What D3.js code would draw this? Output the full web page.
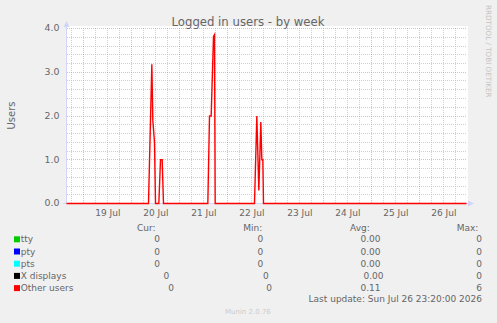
<!DOCTYPE html>
<html>
<head>
<meta charset="utf-8">
<script src="https://cdn.jsdelivr.net/npm/d3@7"></script>
<style>
  body { margin: 0; background: #f0f0f0; }
  svg { display: block; font-family: "DejaVu Sans", sans-serif; }
</style>
</head>
<body>
<div id="wrapper"></div>
<script>
// "Other users" samples (all other series are 0 over the week)
const otherTimes = [
  "2026-07-18 15:20", "2026-07-20 08:20", "2026-07-20 10:00", "2026-07-20 10:30",
  "2026-07-20 11:20", "2026-07-20 11:50", "2026-07-20 13:30", "2026-07-20 14:20",
  "2026-07-20 15:10", "2026-07-20 15:50", "2026-07-21 14:00", "2026-07-21 14:50",
  "2026-07-21 15:40", "2026-07-21 16:50", "2026-07-21 17:20", "2026-07-21 17:40",
  "2026-07-22 13:20", "2026-07-22 14:30", "2026-07-22 15:30", "2026-07-22 16:30",
  "2026-07-22 17:00", "2026-07-22 17:30", "2026-07-22 17:50", "2026-07-26 23:20"
];
const otherValues = [
  0, 0, 3.18, 1.9,
  1.4, 0, 0, 1.0,
  1.0, 0, 0, 2.0,
  2.0, 3.82, 3.86, 0,
  0, 2.0, 0.3, 1.86,
  1.0, 1.0, 0, 0
];

const yTicks = [0, 1, 2, 3, 4];
const seriesNames = ["tty", "pty", "pts", "X displays", "Other users"];
const seriesColors = ["#00cc00", "#0000ff", "#00ffff", "#000000", "#ff0000"];
const curValues = ["0", "0", "0", "0", "0"];
const minValues = ["0", "0", "0", "0", "0"];
const avgValues = ["0.00", "0.00", "0.00", "0.00", "0.11"];
const maxValues = ["0", "0", "0", "0", "6"];

const startTime = "2026-07-18 15:20";
const endTime = "2026-07-26 23:20";

function drawChart() {
  const parse = d3.timeParse("%Y-%m-%d %H:%M");
  const data = otherTimes.map((t, i) => ({ date: parse(t), value: otherValues[i] }));
  const start = parse(startTime), end = parse(endTime);

  const dims = { width: 497, height: 323, left: 66.5, right: 466.5, top: 28, bottom: 203 };
  const crisp = v => Math.round(v) + 0.5;
  const fontColor = "#666666";
  const axisColor = "#cfd6f8";

  const svg = d3.select("#wrapper").append("svg")
    .attr("width", dims.width)
    .attr("height", dims.height);

  svg.append("rect").attr("width", dims.width).attr("height", dims.height).attr("fill", "#f0f0f0");
  svg.append("rect")
    .attr("x", 66).attr("y", 26)
    .attr("width", 402).attr("height", 177)
    .attr("fill", "#ffffff");

  const xScale = d3.scaleTime().domain([start, end]).range([dims.left, dims.right]);
  const yScale = d3.scaleLinear().domain([0, 4]).range([dims.bottom, dims.top]);

  // grid
  const grid = svg.append("g").attr("fill", "none").attr("stroke-dasharray", "1,1");
  const minorY = d3.range(0, 4.01, 0.2).filter(v => Math.abs(v - Math.round(v)) > 0.01);
  grid.selectAll(".hminor").data(minorY).join("line")
    .attr("x1", 67).attr("x2", 467)
    .attr("y1", d => crisp(yScale(d))).attr("y2", d => crisp(yScale(d)))
    .attr("stroke", "rgba(192,192,192,0.75)");
  const minorX = d3.timeHour.every(6).range(start, end).filter(d => d.getHours() !== 0);
  grid.selectAll(".vminor").data(minorX).join("line")
    .attr("x1", d => Math.floor(xScale(d)) + 0.5).attr("x2", d => Math.floor(xScale(d)) + 0.5)
    .attr("y1", 28).attr("y2", 203)
    .attr("stroke", "rgba(192,192,192,0.75)");
  grid.selectAll(".hmajor").data(yTicks.filter(d => d > 0)).join("line")
    .attr("x1", 67).attr("x2", 467)
    .attr("y1", d => crisp(yScale(d))).attr("y2", d => crisp(yScale(d)))
    .attr("stroke", "rgba(240,128,128,0.6)");
  grid.selectAll(".vmajor").data(d3.timeDay.range(start, end)).join("line")
    .attr("x1", d => Math.floor(xScale(d)) + 0.5).attr("x2", d => Math.floor(xScale(d)) + 0.5)
    .attr("y1", 28).attr("y2", 203)
    .attr("stroke", "rgba(240,128,128,0.6)");

  // axes + arrows
  svg.append("line").attr("x1", 66.5).attr("x2", 66.5).attr("y1", 204).attr("y2", 26)
    .attr("stroke", axisColor);
  svg.append("line").attr("x1", 63).attr("x2", 468).attr("y1", 203.5).attr("y2", 203.5)
    .attr("stroke", axisColor);
  svg.append("path").attr("d", "M63.5,27 L66.5,21 L69.5,27 Z").attr("fill", axisColor);
  svg.append("path").attr("d", "M468,200.5 L474,203.5 L468,206.5 Z").attr("fill", axisColor);

  // tick labels
  svg.append("g").selectAll("text").data(yTicks).join("text")
    .attr("x", 59.5).attr("y", d => yScale(d) + 3.4)
    .attr("text-anchor", "end").attr("font-size", 9.4).attr("fill", fontColor)
    .text(d3.format(".1f"));
  const noon = d3.timeDay.range(start, end).map(d => d3.timeHour.offset(d, 12));
  svg.append("g").selectAll("text").data(noon).join("text")
    .attr("x", d => xScale(d)).attr("y", 215.5)
    .attr("text-anchor", "middle").attr("font-size", 9).attr("fill", fontColor)
    .text(d3.timeFormat("%d %b"));

  // series line
  const line = d3.line().x(d => xScale(d.date)).y(d => yScale(d.value) + 0.5);
  svg.append("path").datum(data)
    .attr("d", line)
    .attr("fill", "none")
    .attr("stroke", "#ff0000")
    .attr("stroke-width", 1.4);

  // titles
  svg.append("text").attr("x", 248).attr("y", 25.5)
    .attr("text-anchor", "middle").attr("font-size", 11.7).attr("fill", fontColor)
    .text("Logged in users - by week");
  svg.append("text")
    .attr("transform", "translate(14.5,115.5) rotate(-90)")
    .attr("text-anchor", "middle").attr("font-size", 10).attr("fill", fontColor)
    .text("Users");
  svg.append("text")
    .attr("transform", "translate(485.5,5) rotate(90)")
    .attr("font-size", 7.2).attr("fill", "#c4c4c4")
    .text("RRDTOOL / TOBI OETIKER");

  // legend
  const legend = svg.append("g").attr("font-size", 9).attr("fill", fontColor);
  const headers = ["Cur:", "Min:", "Avg:", "Max:"];
  const headerX = [137, 243.3, 350, 456.7];
  legend.selectAll(".hdr").data(headers).join("text")
    .attr("x", (d, i) => headerX[i]).attr("y", 231)
    .text(d => d);

  const rowY = i => 242.3 + i * 12.2;
  legend.selectAll("rect").data(seriesColors).join("rect")
    .attr("x", 14).attr("y", (d, i) => rowY(i) - 6)
    .attr("width", 6).attr("height", 6)
    .attr("fill", d => d);
  legend.selectAll(".name").data(seriesNames).join("text")
    .attr("x", 20.7).attr("y", (d, i) => rowY(i))
    .text(d => d);

  const columns = [
    { values: curValues, right: [160, 160, 160, 169.3, 174] },
    { values: minValues, right: [263.3, 263.3, 263.3, 268.7, 272] },
    { values: avgValues, right: [380.5, 380.5, 380.5, 383.5, 380.5] },
    { values: maxValues, right: [482, 482, 482, 482, 482] }
  ];
  columns.forEach(col => {
    legend.append("g").selectAll("text").data(col.values).join("text")
      .attr("x", (d, i) => col.right[i]).attr("y", (d, i) => rowY(i))
      .attr("text-anchor", "end")
      .text(d => d);
  });

  legend.append("text").attr("x", 482).attr("y", 302)
    .attr("text-anchor", "end")
    .text("Last update: Sun Jul 26 23:20:00 2026");
  svg.append("text").attr("x", 225).attr("y", 314)
    .attr("font-size", 7).attr("fill", "#cccccc")
    .text("Munin 2.0.76");
}

drawChart();
</script>
</body>
</html>
